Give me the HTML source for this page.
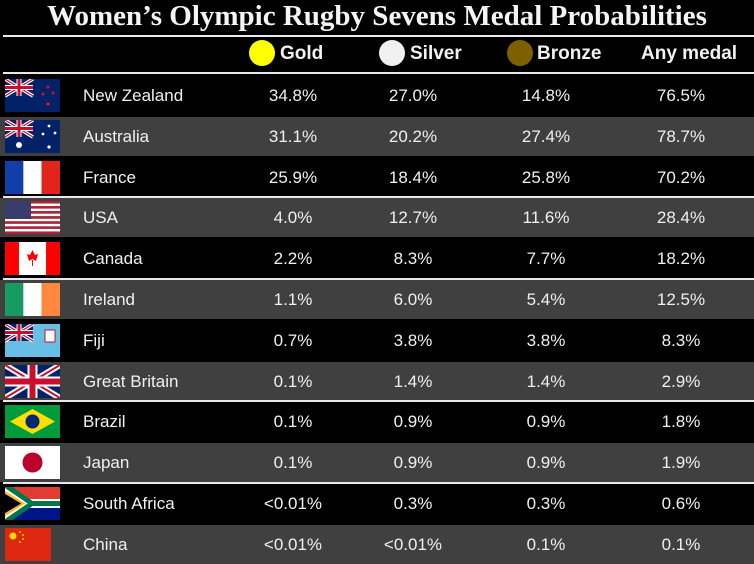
<!DOCTYPE html>
<html><head><meta charset="utf-8"><style>
body{margin:0;background:#000;width:754px;height:560px;overflow:hidden;position:relative;font-family:"Liberation Sans",sans-serif;color:#fff}
.abs{position:absolute}
#title{left:0;width:754px;top:0px;text-align:center;font-family:"Liberation Serif",serif;font-weight:bold;font-size:29px;line-height:33px;color:#f4f4f4;white-space:nowrap}
.hline{position:absolute;left:3px;right:0;height:2px;background:#e8e8e8}
.hdr{position:absolute;top:43px;font-weight:bold;font-size:19px;color:#f2f2f2}
.dot{position:absolute;top:40px;width:26px;height:26px;border-radius:50%}
.row{position:absolute;left:0;width:754px}
.cell{position:absolute;font-size:17px;text-align:center;width:120px;color:#f0f0f0}
.name{position:absolute;left:83px;font-size:17px;color:#f0f0f0}
.flag{position:absolute;left:5px;width:55px;height:33px}
</style></head><body>
<div id="title" class="abs">Women’s Olympic Rugby Sevens Medal Probabilities</div>
<div class="hline" style="top:35px"></div>
<div class="dot" style="left:249px;background:#ffff00"></div>
<div class="hdr" style="left:280px">Gold</div>
<div class="dot" style="left:379px;background:#f0f0f0"></div>
<div class="hdr" style="left:410px">Silver</div>
<div class="dot" style="left:507px;background:#7f6000"></div>
<div class="hdr" style="left:537px">Bronze</div>
<div class="hdr" style="left:641px">Any medal</div>
<div class="hline" style="top:72px"></div>
<div id="rows"></div>
<script>
const countries=["New Zealand","Australia","France","USA","Canada","Ireland","Fiji","Great Britain","Brazil","Japan","South Africa","China"];
const gold=["34.8%","31.1%","25.9%","4.0%","2.2%","1.1%","0.7%","0.1%","0.1%","0.1%","<0.01%","<0.01%"];
const silver=["27.0%","20.2%","18.4%","12.7%","8.3%","6.0%","3.8%","1.4%","0.9%","0.9%","0.3%","<0.01%"];
const bronze=["14.8%","27.4%","25.8%","11.6%","7.7%","5.4%","3.8%","1.4%","0.9%","0.9%","0.3%","0.1%"];
const anyMedal=["76.5%","78.7%","70.2%","28.4%","18.2%","12.5%","8.3%","2.9%","1.8%","1.9%","0.6%","0.1%"];
const uj='<rect width="28" height="17" fill="#012169"/><path d="M0,0L28,17M28,0L0,17" stroke="#fff" stroke-width="3.5"/><path d="M0,0L28,17M28,0L0,17" stroke="#c8102e" stroke-width="1.2"/><path d="M14,0V17M0,8.5H28" stroke="#fff" stroke-width="5"/><path d="M14,0V17M0,8.5H28" stroke="#c8102e" stroke-width="3"/>';
const flags={
"New Zealand":'<rect width="55" height="33" fill="#012169"/>'+uj+'<g fill="#c8102e"><circle cx="43" cy="8" r="1.6"/><circle cx="38" cy="15" r="1.6"/><circle cx="48" cy="14" r="1.6"/><circle cx="43" cy="25" r="1.8"/></g>',
"Australia":'<rect width="55" height="33" fill="#012169"/>'+uj+'<g fill="#fff"><circle cx="14" cy="25" r="3"/><circle cx="44" cy="6" r="1.4"/><circle cx="38" cy="14" r="1.4"/><circle cx="50" cy="13" r="1.4"/><circle cx="44" cy="27" r="1.6"/></g>',
"France":'<rect width="18.3" height="33" fill="#0f3fa8"/><rect x="18.3" width="18.4" height="33" fill="#fff"/><rect x="36.7" width="18.3" height="33" fill="#e1251b"/>',
"USA":(()=>{let s='';for(let i=0;i<13;i++)s+='<rect y="'+(i*33/13)+'" width="55" height="'+(33/13)+'" fill="'+(i%2?'#fff':'#b22234')+'"/>';return s+'<rect width="26" height="18" fill="#3c3b6e"/>';})(),
"Canada":'<rect width="55" height="33" fill="#fff"/><rect width="14" height="33" fill="#f00"/><rect x="41" width="14" height="33" fill="#f00"/><path d="M27.5,8L30,13L33,12L31,19L27.5,17L24,19L22,12L25,13Z" fill="#f00"/><rect x="27" y="18" width="1" height="6" fill="#f00"/>',
"Ireland":'<rect width="18.3" height="33" fill="#169b62"/><rect x="18.3" width="18.4" height="33" fill="#fff"/><rect x="36.7" width="18.3" height="33" fill="#ff883e"/>',
"Fiji":'<rect width="55" height="33" fill="#68bfe5"/>'+uj+'<rect x="40" y="6" width="10" height="12" fill="#fff" stroke="#c8102e"/>',
"Great Britain":'<rect width="55" height="33" fill="#012169"/><path d="M0,0L55,33M55,0L0,33" stroke="#fff" stroke-width="6"/><path d="M0,0L55,33M55,0L0,33" stroke="#c8102e" stroke-width="2"/><path d="M27.5,0V33M0,16.5H55" stroke="#fff" stroke-width="10"/><path d="M27.5,0V33M0,16.5H55" stroke="#c8102e" stroke-width="6"/>',
"Brazil":'<rect width="55" height="33" fill="#009c3b"/><path d="M27.5,4L50,16.5L27.5,29L5,16.5Z" fill="#ffdf00"/><circle cx="27.5" cy="16.5" r="7" fill="#002776"/>',
"Japan":'<rect width="55" height="33" fill="#fff"/><circle cx="27.5" cy="16.5" r="10" fill="#bc002d"/>',
"South Africa":'<rect width="55" height="16.5" fill="#e03c31"/><rect y="16.5" width="55" height="16.5" fill="#001489"/><path d="M0,0L27,16.5L0,33" fill="#fff"/><path d="M0,4L20,16.5L0,29Z" fill="#ffb81c"/><path d="M0,7L16,16.5L0,26Z" fill="#000"/><path d="M20,16.5H55" stroke="#fff" stroke-width="9"/><path d="M0,-2L27,16.5L0,35M27,16.5H55" stroke="#007749" stroke-width="5" fill="none"/><path d="M0,7L16,16.5L0,26Z" fill="#000"/>',
"China":'<rect width="46" height="33" fill="#de2910"/><g fill="#ffde00"><circle cx="8" cy="8" r="3.5"/><circle cx="15" cy="4" r="1"/><circle cx="18" cy="7" r="1"/><circle cx="18" cy="11" r="1"/><circle cx="15" cy="14" r="1"/></g>'
};
const rows=document.getElementById('rows');
const top0=75, rh=40.8, centers=[293,413,546,681];
const seps=[2,4,7,9];
countries.forEach((c,i)=>{
  const r=document.createElement('div');
  r.className='row';
  
  
  r.style.top=(top0+i*rh+1)+'px';r.style.height=(rh-2)+'px';
  r.style.background=i%2?'#404040':'#000';
  const f=document.createElementNS('http://www.w3.org/2000/svg','svg');
  f.setAttribute('class','flag');f.setAttribute('viewBox','0 0 55 33');f.setAttribute('preserveAspectRatio','none');
  f.style.top='3px';
  f.innerHTML=flags[c];
  
  
  r.appendChild(f);
  const n=document.createElement('div');n.className='name';n.textContent=c;n.style.top='10px';
  
  
  r.appendChild(n);
  [gold,silver,bronze,anyMedal].forEach((arr,k)=>{
    const d=document.createElement('div');d.className='cell';d.textContent=arr[i];
    d.style.left=(centers[k]-60)+'px';d.style.top='10px';
    
    
    r.appendChild(d);
  });
  rows.appendChild(r);
  if(seps.includes(i)){
    const l=document.createElement('div');l.className='hline';
    l.style.top=(top0+(i+1)*rh-1)+'px';
    
    
    rows.appendChild(l);
  }
});
</script>
</body></html>
